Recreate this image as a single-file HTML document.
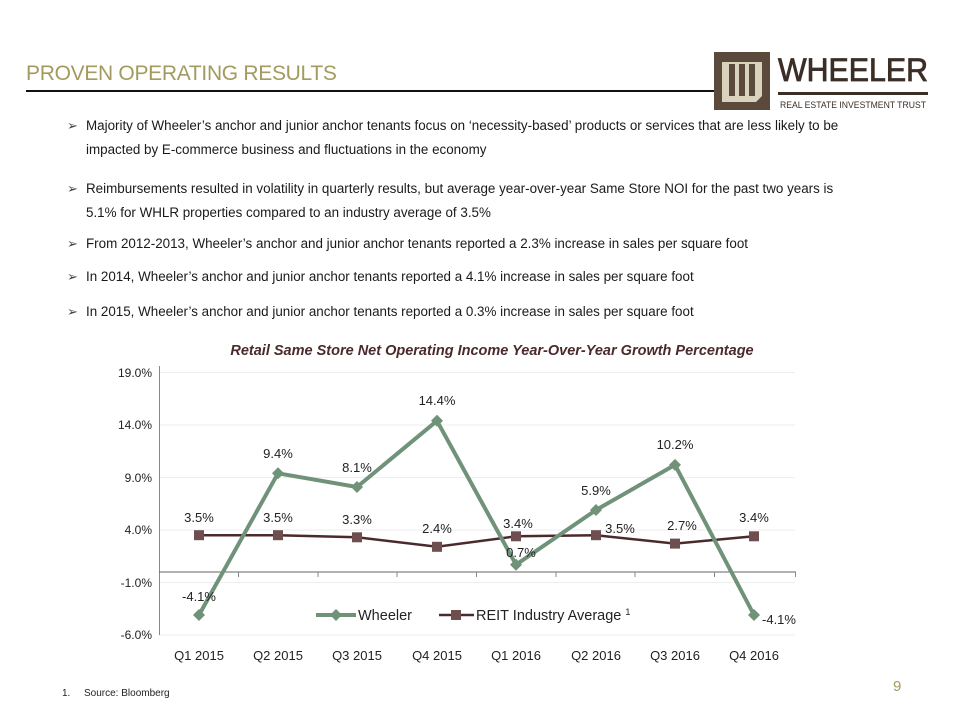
<!DOCTYPE html>
<html><head><meta charset="utf-8"><style>
body{margin:0;width:960px;height:720px;background:#fff;position:relative;overflow:hidden;font-family:"Liberation Sans",sans-serif;}
.t{position:absolute;white-space:nowrap;}
.b{position:absolute;left:86px;font-size:13.4px;color:#1a1a1a;white-space:nowrap;}
.ar{position:absolute;left:67px;font-size:13px;color:#444;}
</style></head><body>
<div class="t" style="left:26px;top:62px;font-size:21px;color:#a39a5e;letter-spacing:-0.3px">PROVEN OPERATING RESULTS</div>
<div style="position:absolute;left:26px;top:90px;width:690px;height:2px;background:#111"></div>
<svg style="position:absolute;left:712px;top:50px" width="220" height="64">
<rect x="2" y="2" width="56" height="58" fill="#5b4a3c"/>
<polygon points="10,12 50,12 50,46 44,52 10,52" fill="#d9d3be"/>
<rect x="17" y="14" width="6" height="32" fill="#5b4a3c"/><rect x="27" y="14" width="6" height="32" fill="#5b4a3c"/><rect x="37" y="14" width="6" height="32" fill="#5b4a3c"/>
<text x="66" y="31" font-family="Liberation Sans" font-size="32" fill="#3a2e26" stroke="#3a2e26" stroke-width="0.8" textLength="150" lengthAdjust="spacingAndGlyphs">WHEELER</text>
<rect x="66" y="42" width="150" height="3" fill="#3a2e26"/>
<text x="68" y="58" font-family="Liberation Sans" font-size="9" fill="#3a2e26" textLength="146" lengthAdjust="spacingAndGlyphs">REAL ESTATE INVESTMENT TRUST</text>
</svg>
<span class="ar" style="top:118px">➢</span><div class="b" style="top:118px">Majority of Wheeler’s anchor and junior anchor tenants focus on ‘necessity-based’ products or services that are less likely to be</div>
<div class="b" style="top:142px">impacted by E-commerce business and fluctuations in the economy</div>
<span class="ar" style="top:181px">➢</span><div class="b" style="top:181px">Reimbursements resulted in volatility in quarterly results, but average year-over-year Same Store NOI for the past two years is</div>
<div class="b" style="top:205px">5.1% for WHLR properties compared to an industry average of 3.5%</div>
<span class="ar" style="top:236px">➢</span><div class="b" style="top:236px">From 2012-2013, Wheeler’s anchor and junior anchor tenants reported a 2.3% increase in sales per square foot</div>
<span class="ar" style="top:269px">➢</span><div class="b" style="top:269px">In 2014, Wheeler’s anchor and junior anchor tenants reported a 4.1% increase in sales per square foot</div>
<span class="ar" style="top:304px">➢</span><div class="b" style="top:304px">In 2015, Wheeler’s anchor and junior anchor tenants reported a 0.3% increase in sales per square foot</div>
<svg style="position:absolute;left:0;top:0" width="960" height="720" font-family="Liberation Sans">
<text x="492" y="355" text-anchor="middle" font-size="14.5" font-weight="bold" font-style="italic" fill="#4a2a2c">Retail Same Store Net Operating Income Year-Over-Year Growth Percentage</text>
<g stroke="#eee" stroke-width="1">
<line x1="159" x2="795" y1="372.5" y2="372.5"/><line x1="159" x2="795" y1="425" y2="425"/><line x1="159" x2="795" y1="477.5" y2="477.5"/><line x1="159" x2="795" y1="530" y2="530"/><line x1="159" x2="795" y1="582.5" y2="582.5"/><line x1="159" x2="795" y1="635" y2="635"/>
</g>
<line x1="159.5" y1="366" x2="159.5" y2="635" stroke="#888"/>
<line x1="159" y1="572" x2="796" y2="572" stroke="#666"/>
<g stroke="#888"><line x1="238.5" x2="238.5" y1="572" y2="577"/><line x1="318" x2="318" y1="572" y2="577"/><line x1="397" x2="397" y1="572" y2="577"/><line x1="476.5" x2="476.5" y1="572" y2="577"/><line x1="556" x2="556" y1="572" y2="577"/><line x1="635" x2="635" y1="572" y2="577"/><line x1="714.5" x2="714.5" y1="572" y2="577"/><line x1="795.5" x2="795.5" y1="572" y2="577"/></g>
<g font-size="12" fill="#222" text-anchor="end">
<text x="152" y="377">19.0%</text><text x="152" y="429">14.0%</text><text x="152" y="482">9.0%</text><text x="152" y="534">4.0%</text><text x="152" y="587">-1.0%</text><text x="152" y="639">-6.0%</text></g>
<g font-size="13" fill="#222" text-anchor="middle">
<text x="199" y="660">Q1 2015</text><text x="278" y="660">Q2 2015</text><text x="357" y="660">Q3 2015</text><text x="437" y="660">Q4 2015</text><text x="516" y="660">Q1 2016</text><text x="596" y="660">Q2 2016</text><text x="675" y="660">Q3 2016</text><text x="754" y="660">Q4 2016</text></g>
<polyline fill="none" stroke="#4a2a2c" stroke-width="2.5" points="199,535.2 278,535.2 357,537.3 437,546.8 516,536.3 596,535.2 675,543.6 754,536.3"/>
<g fill="#6e4e4e"><rect x="194" y="530.2" width="10" height="10"/><rect x="273" y="530.2" width="10" height="10"/><rect x="352" y="532.3" width="10" height="10"/><rect x="432" y="541.8" width="10" height="10"/><rect x="511" y="531.3" width="10" height="10"/><rect x="591" y="530.2" width="10" height="10"/><rect x="670" y="538.6" width="10" height="10"/><rect x="749" y="531.3" width="10" height="10"/></g>
<polyline fill="none" stroke="#6f9279" stroke-width="4" stroke-linejoin="round" points="199,615 278,473.3 357,487 437,420.8 516,564.7 596,510 675,464.9 754,615"/>
<g fill="#6f9279"><path d="M199,609 l6,6 -6,6 -6,-6z"/><path d="M278,467.3 l6,6 -6,6 -6,-6z"/><path d="M357,481 l6,6 -6,6 -6,-6z"/><path d="M437,414.8 l6,6 -6,6 -6,-6z"/><path d="M516,558.7 l6,6 -6,6 -6,-6z"/><path d="M596,504 l6,6 -6,6 -6,-6z"/><path d="M675,458.9 l6,6 -6,6 -6,-6z"/><path d="M754,609 l6,6 -6,6 -6,-6z"/></g>
<g font-size="13" fill="#222" text-anchor="middle">
<text x="199" y="522">3.5%</text><text x="278" y="522">3.5%</text><text x="357" y="524">3.3%</text><text x="437" y="533">2.4%</text><text x="518" y="528">3.4%</text><text x="620" y="533">3.5%</text><text x="682" y="530">2.7%</text><text x="754" y="522">3.4%</text>
<text x="199" y="601">-4.1%</text><text x="278" y="458">9.4%</text><text x="357" y="472">8.1%</text><text x="437" y="405">14.4%</text><text x="521" y="557">0.7%</text><text x="596" y="495">5.9%</text><text x="675" y="449">10.2%</text><text x="779" y="624">-4.1%</text></g>
<line x1="316" x2="356" y1="615" y2="615" stroke="#6f9279" stroke-width="4"/><path d="M336,609 l6,6 -6,6 -6,-6z" fill="#6f9279"/>
<text x="358" y="620" font-size="14.5" fill="#222">Wheeler</text>
<line x1="439" x2="474" y1="615" y2="615" stroke="#4a2a2c" stroke-width="2.5"/><rect x="451" y="610" width="10" height="10" fill="#6e4e4e"/>
<text x="476" y="620" font-size="14.5" fill="#222">REIT Industry Average <tspan font-size="9" dy="-5">1</tspan></text>
</svg>
<div class="t" style="left:62px;top:688px;font-size:10px;color:#222">1.</div>
<div class="t" style="left:84px;top:688px;font-size:10px;color:#222">Source: Bloomberg</div>
<div class="t" style="left:893px;top:678px;font-size:15px;color:#a39a5e">9</div>
</body></html>
